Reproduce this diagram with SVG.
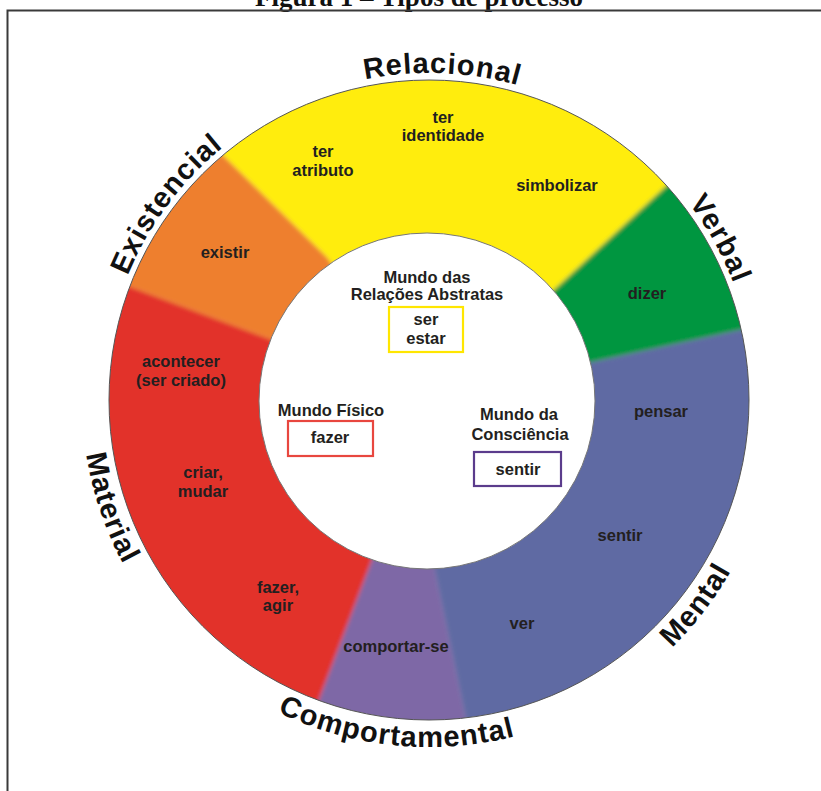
<svg xmlns="http://www.w3.org/2000/svg" width="821" height="791" viewBox="0 0 821 791">
  <style>
    .seg { font-family: "Liberation Sans", Arial, sans-serif; font-weight: bold; font-size: 16.5px; fill: #231f20; text-anchor: middle; }
    .outer { font-family: "Liberation Sans", Arial, sans-serif; font-weight: bold; font-size: 29px; fill: #111; letter-spacing: 1px; }
    .box { fill: #fff; stroke-width: 2.2; }
    .title { font-family: "Liberation Serif", "Times New Roman", serif; font-weight: bold; font-size: 27px; fill: #111; text-anchor: middle; }
  </style>
  <defs>
    <filter id="soft" x="-10%" y="-10%" width="120%" height="120%">
      <feGaussianBlur stdDeviation="2.2"/>
    </filter>
    <clipPath id="ringClip">
      <circle cx="429" cy="400" r="320"/>
    </clipPath>
    <path id="pRelacional" d="M152.6,225.2 A327,327 0 0 1 718.5,248.0"/>
    <path id="pExistencial" d="M129.6,528.9 A326,326 0 0 1 467.0,76.2"/>
    <path id="pVerbal" d="M434.7,74.0 A326,326 0 0 1 708.4,567.9"/>
    <path id="pComportamental" d="M112.7,542.8 A347,347 0 0 0 710.8,602.5"/>
    <path id="pMaterial" d="M168.3,171.0 A347,347 0 0 0 361.0,740.3"/>
    <path id="pMental" d="M383.7,744.0 A347,347 0 0 0 749.6,267.2"/>
  </defs>

  <rect x="0" y="0" width="821" height="791" fill="#fff"/>

  <g id="frame">
    <text class="title" x="419" y="6">Figura 1 – Tipos de processo</text>
    <path d="M7.5,791 V10.5 H821" fill="none" stroke="#3a3a3a" stroke-width="2"/>
  </g>

  <g id="ring">
    <g clip-path="url(#ringClip)">
      <g filter="url(#soft)">
        <path id="wedge-material" fill="#e2312b" d="M429,400 L370,565 L307.5,730 A355,355 0 0 1 96,274 L267,338 Z"/>
        <path id="wedge-existencial" fill="#ee7f2d" d="M429,400 L267,338 L96,274 A355,355 0 0 1 197,129.5 L327,257 Z"/>
        <path id="wedge-relacional" fill="#ffed0d" d="M429,400 L327,257 L197,129.5 A355,355 0 0 1 692,162 L557,287 Z"/>
        <path id="wedge-verbal" fill="#00963f" d="M429,400 L557,287 L692,162 A355,355 0 0 1 777,322 L592,362 Z"/>
        <path id="wedge-mental" fill="#5e6aa3" d="M429,400 L592,362 L777,322 A355,355 0 0 1 472.5,751 L435,572 Z"/>
        <path id="wedge-comportamental" fill="#7e68a6" d="M429,400 L435,572 L472.5,751 A355,355 0 0 1 307.5,730 L370,565 Z"/>
      </g>
    </g>
    <circle cx="429" cy="400" r="320" fill="none" stroke="#555" stroke-width="1"/>
    <circle cx="427" cy="401" r="168" fill="#fff" stroke="#777" stroke-width="1"/>
  </g>

  <g id="relacional">
    <text class="outer"><textPath href="#pRelacional" startOffset="50%" text-anchor="middle">Relacional</textPath></text>
    <text class="seg" x="443" y="123">ter</text>
    <text class="seg" x="443" y="141">identidade</text>
    <text class="seg" x="323" y="157">ter</text>
    <text class="seg" x="323" y="176">atributo</text>
    <text class="seg" x="557" y="191">simbolizar</text>
  </g>

  <g id="existencial">
    <text class="outer"><textPath href="#pExistencial" startOffset="50%" text-anchor="middle">Existencial</textPath></text>
    <text class="seg" x="225" y="258">existir</text>
  </g>

  <g id="verbal">
    <text class="outer"><textPath href="#pVerbal" startOffset="50%" text-anchor="middle">Verbal</textPath></text>
    <text class="seg" x="647" y="299">dizer</text>
  </g>

  <g id="material">
    <text class="outer"><textPath href="#pMaterial" startOffset="50%" text-anchor="middle">Material</textPath></text>
    <text class="seg" x="181" y="367">acontecer</text>
    <text class="seg" x="181" y="386">(ser criado)</text>
    <text class="seg" x="203" y="478">criar,</text>
    <text class="seg" x="203" y="497">mudar</text>
    <text class="seg" x="278" y="593">fazer,</text>
    <text class="seg" x="278" y="611">agir</text>
  </g>

  <g id="comportamental">
    <text class="outer"><textPath href="#pComportamental" startOffset="50%" text-anchor="middle">Comportamental</textPath></text>
    <text class="seg" x="396" y="652">comportar-se</text>
  </g>

  <g id="mental">
    <text class="outer"><textPath href="#pMental" startOffset="50%" text-anchor="middle">Mental</textPath></text>
    <text class="seg" x="661" y="417">pensar</text>
    <text class="seg" x="620" y="541">sentir</text>
    <text class="seg" x="522" y="629">ver</text>
  </g>

  <g id="mundo-relacoes">
    <text class="seg" x="427" y="283">Mundo das</text>
    <text class="seg" x="427" y="300">Relações Abstratas</text>
    <rect class="box" x="389" y="307" width="74" height="45" stroke="#ffe600"/>
    <text class="seg" x="426" y="325">ser</text>
    <text class="seg" x="426" y="344">estar</text>
  </g>

  <g id="mundo-fisico">
    <text class="seg" x="331" y="416">Mundo Físico</text>
    <rect class="box" x="288" y="421" width="85" height="35" stroke="#e8473f"/>
    <text class="seg" x="330" y="443">fazer</text>
  </g>

  <g id="mundo-consciencia">
    <text class="seg" x="519" y="420">Mundo da</text>
    <text class="seg" x="520" y="440">Consciência</text>
    <rect class="box" x="474" y="452" width="87" height="34" stroke="#5b3c8c"/>
    <text class="seg" x="518" y="475">sentir</text>
  </g>

  <g id="connectors"/>
</svg>
